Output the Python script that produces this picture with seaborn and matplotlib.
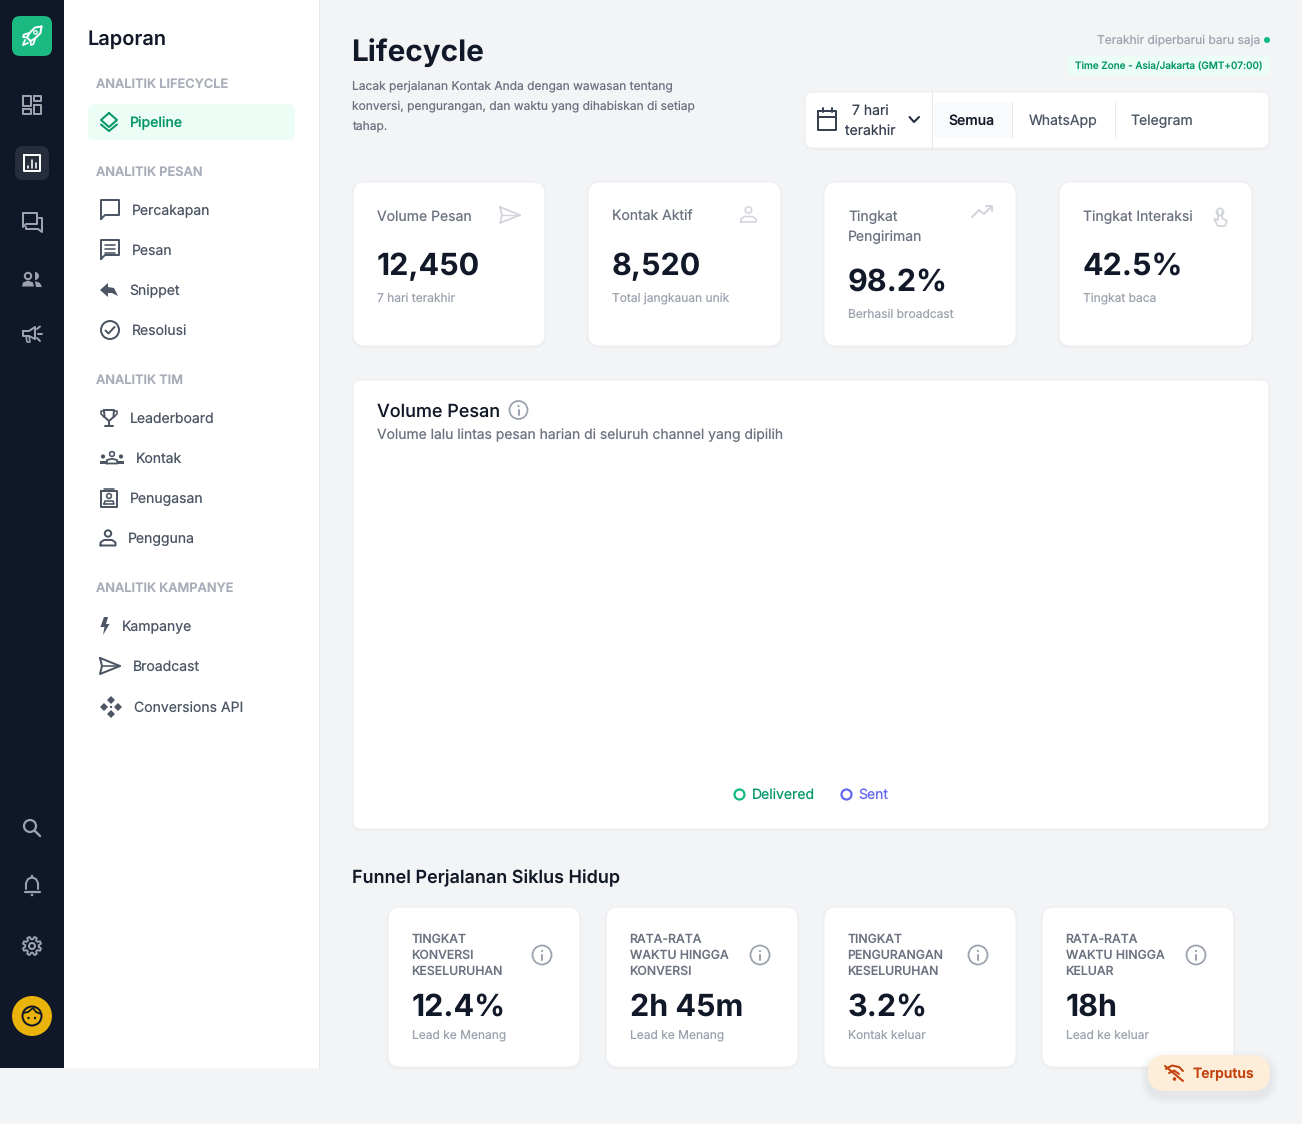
import matplotlib
matplotlib.use("Agg")
import matplotlib.pyplot as plt
from matplotlib.lines import Line2D
from matplotlib.patches import Circle, FancyBboxPatch, Polygon, Wedge
import numpy as np
import pandas as pd
import seaborn as sns

W, H = 1302, 1124

# the chart in the reference has no points yet, only the legend
day_labels = []
delivered_values = []
sent_values = []
legend_labels = ["Delivered", "Sent"]

nav_sections = ["ANALITIK LIFECYCLE", "ANALITIK PESAN", "ANALITIK TIM", "ANALITIK KAMPANYE"]
nav_items = ["Pipeline", "Percakapan", "Pesan", "Snippet", "Resolusi", "Leaderboard", "Kontak",
             "Penugasan", "Pengguna", "Kampanye", "Broadcast", "Conversions API"]

kpi_titles = [["Volume Pesan"], ["Kontak Aktif"], ["Tingkat", "Pengiriman"], ["Tingkat Interaksi"]]
kpi_values = ["12,450", "8,520", "98.2%", "42.5%"]
kpi_notes = ["7 hari terakhir", "Total jangkauan unik", "Berhasil broadcast", "Tingkat baca"]

funnel_titles = [["TINGKAT", "KONVERSI", "KESELURUHAN"], ["RATA-RATA", "WAKTU HINGGA", "KONVERSI"],
                 ["TINGKAT", "PENGURANGAN", "KESELURUHAN"], ["RATA-RATA", "WAKTU HINGGA", "KELUAR"]]
funnel_values = ["12.4%", "2h 45m", "3.2%", "18h"]
funnel_notes = ["Lead ke Menang", "Lead ke Menang", "Kontak keluar", "Lead ke keluar"]

channels = ["Semua", "WhatsApp", "Telegram"]

NAVY = "#0f172a"
INK = "#111827"
GREY = "#4b5563"
MID = "#6b7280"
SOFT = "#9ca3af"
LABEL = "#a8aeb9"
ICON = "#d1d5db"
GREEN = "#059669"
BRIGHT = "#10b981"
BG = "#f3f4f6"
INDIGO = "#6366f1"

sns.set_theme(style="white")
plt.rcParams["font.family"] = ["Inter", "DejaVu Sans"]
plt.rcParams["text.hinting"] = "no_hinting"
plt.rcParams["text.hinting_factor"] = 1

fig = plt.figure(figsize=(W / 100, H / 100), dpi=100, facecolor=BG)
ax = fig.add_axes([0, 0, 1, 1])
ax.set_xlim(0, W)
ax.set_ylim(H, 0)
ax.axis("off")


def pt(px):
    return px * 0.72


def txt(x, y, s, size=14, color=GREY, weight=400, ha="left", z=6):
    ax.text(x, y, s, fontsize=pt(size), color=color, fontweight=weight, ha=ha, va="baseline", zorder=z)


def box(x0, y0, x1, y1, r=8, fc="white", ec="none", lw=1.0, z=2, alpha=None):
    ax.add_patch(FancyBboxPatch((x0 + r, y0 + r), x1 - x0 - 2 * r, y1 - y0 - 2 * r,
                                boxstyle=f"round,pad={r},rounding_size={r}",
                                fc=fc, ec=ec, lw=pt(lw), zorder=z, alpha=alpha))


def card(x0, y0, x1, y1, r=12):
    for grow, a in ((2, 0.008), (1, 0.014)):
        box(x0 - grow, y0 - grow + 1, x1 + grow, y1 + grow + 1, r + grow, fc="#000000", z=1.5, alpha=a)
    box(x0, y0, x1, y1, r, ec="#eceef1", z=2)


def stroke(pts, color=GREY, lw=2.0, z=7, closed=False):
    xs, ys = zip(*pts)
    if closed:
        xs, ys = xs + xs[:1], ys + ys[:1]
    ax.add_line(Line2D(xs, ys, color=color, lw=pt(lw), zorder=z, solid_joinstyle="round", solid_capstyle="round"))


def ring(x, y, r, color=GREY, lw=2.0, z=7, fc="none"):
    ax.add_patch(Circle((x, y), r, fc=fc, ec=color, lw=pt(lw), zorder=z))


def fill(pts, color=GREY, z=7):
    ax.add_patch(Polygon(pts, closed=True, fc=color, ec="none", zorder=z))


def bubble(x, y, color, lw=2.0):
    stroke([(x - 9, y + 10), (x - 9, y - 9), (x + 9, y - 9), (x + 9, y + 6), (x - 5, y + 6), (x - 9, y + 10)], color, lw)


def person(x, y, color, s=1.0, lw=1.8):
    ring(x, y - 5 * s, 3.2 * s, color, lw)
    stroke([(x - 7.5 * s, y + 7 * s), (x - 7.5 * s, y + 4 * s), (x - 4 * s, y + 1.5 * s), (x + 4 * s, y + 1.5 * s),
            (x + 7.5 * s, y + 4 * s), (x + 7.5 * s, y + 7 * s)], color, lw, closed=True)


def send(x, y, color, lw=1.8):
    stroke([(x - 10, y - 8), (x + 10, y), (x - 10, y + 8), (x - 8, y), (x - 10, y - 8)], color, lw)
    stroke([(x - 8, y), (x + 10, y)], color, lw - 0.4)


def info(x, y, color=SOFT, r=9):
    ring(x, y, r, color, 1.8)
    stroke([(x, y - 0.5), (x, y + 4.5)], color, 2)
    ax.add_patch(Circle((x, y - 4), 1.1, fc=color, ec="none", zorder=7))


def gear(x, y, color):
    # eight teeth, outlined
    ang = np.arange(0, 360, 45) + 22.5
    pts = []
    for a in ang:
        for da, rad in ((-15, 6.8), (-8, 9.3), (8, 9.3), (15, 6.8)):
            t = np.radians(a + da)
            pts.append((x + rad * np.cos(t), y + rad * np.sin(t)))
    stroke(pts, color, 1.9, closed=True)
    ring(x, y, 3, color, 2)


# page background panels
ax.add_patch(plt.Rectangle((0, 0), 64, 1068, fc="#0f1729", ec="none", zorder=1))
ax.add_patch(plt.Rectangle((64, 0), 255, 1068, fc="white", ec="none", zorder=1))
ax.add_patch(plt.Rectangle((319, 0), 1, 1068, fc="#e5e7eb", ec="none", zorder=1))

# icon rail
box(12, 16, 52, 56, 8, fc="#19b981", z=2)
rock = [(41.5, 26.5), (35, 27.5), (29.5, 33), (27, 37.5), (30.5, 41), (35, 38.5), (40.5, 33)]
stroke(rock, "white", 2, closed=True)
stroke([(29.5, 33), (24, 34.5), (23, 37), (27, 37.5)], "white", 1.8)
stroke([(35, 38.5), (33.5, 44), (31, 45), (30.5, 41)], "white", 1.8)
ring(35.5, 32.5, 1.7, "white", 1.3)
stroke([(25, 40), (23, 45), (28, 43)], "white", 1.8)

c = SOFT
for rect in ((23, 96, 31, 106), (34, 96, 41, 101), (23, 109, 31, 114), (34, 105, 41, 114)):
    x0, y0, x1, y1 = rect
    stroke([(x0, y0), (x1, y0), (x1, y1), (x0, y1)], c, 2, closed=True)
box(15, 146, 49, 180, 8, fc="#262e3d", z=2)
stroke([(24, 155), (40, 155), (40, 171), (24, 171)], "white", 2, closed=True)
for x, y0 in ((28, 166), (32, 160), (36, 163)):
    stroke([(x, y0), (x, 167.5)], "white", 1.6)
stroke([(23, 213), (37, 213), (37, 224), (26, 224), (23, 227)], c, 2, closed=True)
stroke([(39, 218), (42, 218), (42, 232), (38, 229), (26, 229), (26, 227)], c, 2)
ring(28, 276, 3.2, c, 2)
fill([(22, 286.5), (23, 282.5), (28, 280.5), (33, 282.5), (34, 286.5)], c)
ax.add_patch(Wedge((35, 276), 4, -90, 90, fc=c, ec="none", zorder=7))
fill([(35, 281), (40, 283), (42, 287), (36, 287)], c)
stroke([(23, 331), (29, 331), (35, 327), (35, 339), (29, 336), (23, 336)], c, 2, closed=True)
stroke([(26, 336), (27, 342), (30, 342), (29, 336)], c, 1.6)
stroke([(38, 333.5), (42, 333.5)], c, 2)
stroke([(37, 329), (40, 326.5)], c, 2)
stroke([(37, 338), (40, 341)], c, 2)

ring(30, 826, 6, c, 2.2)
stroke([(34.5, 830.5), (40, 836)], c, 2.4)
stroke([(26, 889), (26, 883), (28, 879), (32, 877.5), (36, 879), (38, 883), (38, 889)], c, 2)
stroke([(24.5, 892), (39.5, 892)], c, 2.2)
stroke([(32, 876), (32, 877)], c, 2.5)
ax.add_patch(Circle((32, 895), 1.3, fc=c, ec="none", zorder=7))
gear(32, 946, c)
ax.add_patch(Circle((32, 1016), 20, fc="#eab308", ec="none", zorder=3))
ring(32, 1016, 9.5, NAVY, 2)
stroke([(23, 1013), (28, 1012), (33, 1008), (36, 1012), (41, 1014)], NAVY, 1.8)
for x in (28.5, 35):
    ax.add_patch(Circle((x, 1018), 1.2, fc=NAVY, ec="none", zorder=8))

# report nav
txt(87.5, 45, "Laporan", 20, INK, 600)
for s, y in zip(nav_sections, (88, 176, 384, 592)):
    txt(96, y, s, 12.8, LABEL, 600)
box(88, 104, 295, 140, 6, fc="#ecfdf5", z=2)
nav_x = (129.4, 132, 132, 129.6, 132, 130, 136, 130, 128, 122, 133, 134)
nav_y = (127, 215, 255, 295, 335, 423, 463, 503, 543, 631, 671, 712)
for i, (s, x, y) in enumerate(zip(nav_items, nav_x, nav_y)):
    txt(x, y, s, 14, GREEN if i == 0 else GREY, 500 if i == 0 else 400)

stroke([(109, 113), (117, 120), (109, 127), (101, 120)], GREEN, 2, closed=True)
stroke([(101, 124.5), (109, 131), (117, 124.5)], GREEN, 2)
bubble(110, 209, GREY)
bubble(110, 249, GREY)
for y in (245, 249, 253):
    stroke([(105, y), (115, y)], GREY, 1.6)
fill([(100, 290), (108, 283), (108, 287), (114, 288), (118, 296), (112, 293), (108, 293), (108, 297)], GREY)
ring(110, 330, 9, GREY, 2)
stroke([(105.5, 330.5), (108.5, 333.5), (114.5, 327)], GREY, 2)
# trophy
stroke([(104, 410), (114, 410), (113.5, 417), (109, 421), (104.5, 417)], GREY, 2, closed=True)
stroke([(104, 411), (101, 411), (101, 414), (104, 417)], GREY, 1.6)
stroke([(114, 411), (117, 411), (117, 414), (114, 417)], GREY, 1.6)
stroke([(109, 421), (109, 426)], GREY, 2)
stroke([(105, 426), (113, 426)], GREY, 2)
# group
ring(112, 454, 2.4, GREY, 1.6)
stroke([(106.5, 463.5), (107, 460), (112, 458.8), (117, 460), (117.5, 463.5)], GREY, 1.8, closed=True)
for x in (103, 121):
    ax.add_patch(Circle((x, 456.5), 2.1, fc=GREY, ec="none", zorder=7))
    fill([(x - 3, 464), (x - 3, 460.5), (x + 3, 460.5), (x + 3, 464)], GREY)
# badge
stroke([(101, 491), (117, 491), (117, 507), (101, 507)], GREY, 2, closed=True)
ring(109, 496, 2.4, GREY, 1.6)
stroke([(104, 504), (105, 501), (113, 501), (114, 504)], GREY, 1.6, closed=True)
stroke([(104, 489), (114, 489)], GREY, 1.6)
person(108, 538.5, GREY, 1.0, 2)
fill([(104, 617), (108, 617), (106, 624), (109.5, 624), (103, 635), (104.5, 627), (100.5, 627)], GREY)
send(110, 666, GREY, 2)
for dx, dy in ((0, -7), (0, 7), (-7, 0), (7, 0)):
    xc, yc = 111 + dx, 707 + dy
    fill([(xc, yc - 4), (xc + 4, yc), (xc, yc + 4), (xc - 4, yc)], GREY)
ax.add_patch(Circle((111, 707), 1.2, fc=GREY, ec="none", zorder=7))

# page header
txt(351.5, 61, "Lifecycle", 29.7, INK, 700)
for s, y in zip(("Lacak perjalanan Kontak Anda dengan wawasan tentang",
                 "konversi, pengurangan, dan waktu yang dihabiskan di setiap", "tahap."), (89.6, 109.6, 131)):
    txt(352, y, s, 12, MID)
txt(1260, 44, "Terakhir diperbarui baru saja", 12, SOFT, ha="right")
ax.add_patch(Circle((1267, 40), 3, fc=BRIGHT, ec="none", zorder=5))
box(1067, 56, 1270, 75, 4, fc="#ecfdf5", z=2)
txt(1075, 70, "Time Zone - Asia/Jakarta (GMT+07:00)", 9.95, GREEN, 500)

# date and channel filter
card(805, 92, 1269, 148, 8)
stroke([(818, 111), (836, 111), (836, 130), (818, 130)], "#374151", 2, closed=True)
stroke([(818, 116.5), (836, 116.5)], "#374151", 2)
for x in (822.5, 831.5):
    stroke([(x, 108), (x, 112)], "#374151", 2)
txt(870.5, 115, "7 hari", 14, "#374151", ha="center")
txt(870.5, 135, "terakhir", 14, "#374151", ha="center")
stroke([(909.5, 117), (914, 122), (919, 117)], "#1f2937", 2)
for x, y0, y1 in ((932, 92, 148), (1012, 102, 138), (1114.5, 102, 138)):
    stroke([(x, y0), (x, y1)], "#e5e7eb", 1)
box(934, 102, 1012, 138, 2, fc="#f9fafb", z=3)
for s, x, col, w in zip(channels, (948.7, 1028.5, 1130.5), (INK, GREY, GREY), (500, 400, 400)):
    txt(x, 125, s, 14, col, w)

# kpi cards
kpi_x = (353, 588, 824, 1059)
kpi_x1 = (545, 781, 1016, 1252)
for i, x in enumerate(kpi_x):
    card(x, 182, kpi_x1[i], 346)
    shift = 16 * (len(kpi_titles[i]) - 1)
    for j, line in enumerate(kpi_titles[i]):
        txt(x + 24, 221.2 + 20 * j, line, 14, MID)
    txt(x + 24, 275 + shift, kpi_values[i], 30.5, INK, 700)
    txt(x + 24, 301.6 + shift, kpi_notes[i], 12, SOFT)
send(510, 215, ICON)
person(748.5, 215, ICON, 1.0, 1.6)
stroke([(972, 217), (979, 210), (984, 214), (992, 206)], ICON, 2)
stroke([(986, 206), (992, 206), (992, 211)], ICON, 2)
ring(1220, 212, 3.5, ICON, 1.8)
stroke([(1218, 212), (1218, 220), (1214, 219), (1218, 226), (1225, 226), (1227, 221), (1222, 218), (1222, 212)], ICON, 1.8)

# message volume chart card
card(353, 380, 1269, 829, 8)
txt(377, 417, "Volume Pesan", 18, INK, 500)
info(518.5, 410)
txt(377, 439, "Volume lalu lintas pesan harian di seluruh channel yang dipilih", 13.9, MID)

chart_ax = fig.add_axes([377 / W, 1 - 775 / H, 868 / W, 320 / H])
chart_df = pd.DataFrame({"day": pd.Series(day_labels, dtype=float),
                         "Delivered": pd.Series(delivered_values, dtype=float),
                         "Sent": pd.Series(sent_values, dtype=float)})
sns.lineplot(data=chart_df, x="day", y="Delivered", color=BRIGHT, ax=chart_ax)
sns.lineplot(data=chart_df, x="day", y="Sent", color=INDIGO, ax=chart_ax)
chart_ax.axis("off")
handles = [Line2D([], [], ls="none", marker="o", ms=pt(10), mfc="white", mec=col, mew=pt(2.2))
           for col in (BRIGHT, INDIGO)]
leg = chart_ax.legend(handles, legend_labels, loc="center", ncol=2, frameon=False, fontsize=pt(14),
                      bbox_to_anchor=(0.4995, -0.0625), handletextpad=0.42, columnspacing=1.68, handlelength=1.0)
for t, col in zip(leg.get_texts(), (GREEN, INDIGO)):
    t.set_color(col)

# funnel
txt(352, 883, "Funnel Perjalanan Siklus Hidup", 18, INK, 600)
for i, x in enumerate((388, 606, 824, 1042)):
    card(x, 907, x + 192, 1067)
    for j, line in enumerate(funnel_titles[i]):
        txt(x + 23.6, 943 + 16 * j, line, 12.3, MID, 500)
    info(x + 154, 955, r=9.5)
    txt(x + 24, 1016, funnel_values[i], 30.5, INK, 700)
    txt(x + 24, 1039.4, funnel_notes[i], 12, SOFT)

# connection toast
for grow, a in ((9, 0.012), (6, 0.018), (3, 0.025)):
    box(1148 - grow, 1055 - grow + 5, 1270 + grow, 1091 + grow + 5, 18 + grow, fc="#000000", z=7.5, alpha=a)
box(1148, 1055, 1270, 1091, 18, fc="#feeed9", z=8)
OFF = "#c2410c"
stroke([(1166, 1069), (1172, 1065.5), (1179, 1067), (1183, 1071)], OFF, 2, z=9)
stroke([(1169, 1073), (1174, 1070.5), (1179, 1074)], OFF, 2, z=9)
ax.add_patch(Circle((1174.5, 1079), 1.8, fc=OFF, ec="none", zorder=9))
stroke([(1165, 1066), (1183, 1081)], OFF, 2, z=9)
txt(1193, 1078, "Terputus", 14, OFF, 600, z=9)

fig.savefig("out.png", dpi=100, facecolor=BG)
